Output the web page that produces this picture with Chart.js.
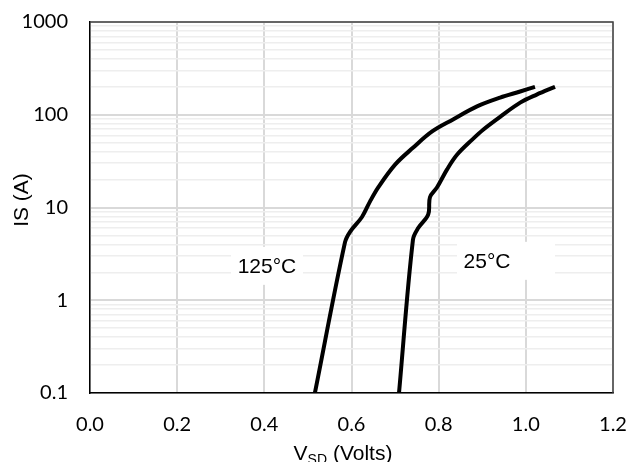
<!DOCTYPE html>
<html>
<head>
<meta charset="utf-8">
<script src="https://cdn.jsdelivr.net/npm/chart.js@4.4.0/dist/chart.umd.min.js"></script>
<style>
  body { margin: 0; background: #fff; }
  canvas { display: block; }
</style>
</head>
<body>
<canvas id="diodeChart" width="631" height="462"></canvas>
<script>
// forward voltage (V) vs source current (A)
const vsd125 = [0.516, 0.585, 0.597, 0.624, 0.642, 0.661, 0.700, 0.741, 0.785, 0.833, 0.888, 0.941, 0.987, 1.021];
const is125  = [0.1,   4.2,   5.5,   7.9,   11.5,  16.4,  29,    44,    66,    89,    123,   153,   178,   200];

const vsd25 = [0.709, 0.741, 0.753, 0.776, 0.780, 0.796, 0.819, 0.842, 0.877, 0.902, 0.941, 0.987, 1.025, 1.067];
const is25  = [0.1,   4.5,   6.0,   8.4,   12.9,  16.4,  25.6,  37,    54,    69,    95,    135,   165,   200];

const xTicks = [0.0, 0.2, 0.4, 0.6, 0.8, 1.0, 1.2];
const yDecades = [0.1, 1, 10, 100, 1000];

const curveLabels = [
    { text: '125\u00B0C', x: 0.406, y: 2.35 },
    { text: '25\u00B0C', x: 0.911, y: 2.66 }
];

const labelFont = '21px "Liberation Sans", Arial, sans-serif';

function toPoints(xs, ys) {
    return xs.map((x, i) => ({ x: x, y: ys[i] }));
}

// white boxed labels next to each curve, frame, and the axis titles
const extrasPlugin = {
    id: 'extras',
    afterDatasetsDraw(chart) {
        const ctx = chart.ctx;
        const xs = chart.scales.x;
        const ys = chart.scales.y;
        const area = chart.chartArea;

        ctx.save();
        ctx.font = labelFont;
        ctx.textAlign = 'center';
        ctx.textBaseline = 'middle';
        curveLabels.forEach((lbl, i) => {
            const px = xs.getPixelForValue(lbl.x);
            const py = ys.getPixelForValue(lbl.y);
            ctx.fillStyle = '#fff';
            if (i === 0) ctx.fillRect(px - 36, py - 19, 72, 38);
            else ctx.fillRect(px - 30, py - 19, 98, 38);
            ctx.fillStyle = '#000';
            ctx.fillText(lbl.text, px, py + 1);
        });

        ctx.strokeStyle = '#404040';
        ctx.lineWidth = 1.5;
        ctx.beginPath();
        ctx.moveTo(area.left, area.top);
        ctx.lineTo(area.right, area.top);
        ctx.lineTo(area.right, area.bottom);
        ctx.stroke();

        // y title
        ctx.fillStyle = '#000';
        ctx.save();
        ctx.translate(22, 200);
        ctx.rotate(-Math.PI / 2);
        ctx.font = labelFont;
        ctx.textAlign = 'center';
        ctx.textBaseline = 'middle';
        ctx.fillText('IS (A)', 0, 0);
        ctx.restore();

        // x title: V with SD subscript
        ctx.textAlign = 'left';
        ctx.textBaseline = 'alphabetic';
        const small = '14px "Liberation Sans", Arial, sans-serif';
        ctx.font = labelFont;
        const wV = ctx.measureText('V').width;
        const wRest = ctx.measureText(' (Volts)').width;
        ctx.font = small;
        const wSub = ctx.measureText('SD').width;
        let x0 = 343 - (wV + wSub + wRest) / 2;
        const base = 460;
        ctx.font = labelFont;
        ctx.fillText('V', x0, base);
        ctx.font = small;
        ctx.fillText('SD', x0 + wV, base + 4);
        ctx.font = labelFont;
        ctx.fillText(' (Volts)', x0 + wV + wSub, base);
        ctx.restore();
    }
};

const ctx = document.getElementById('diodeChart');

new Chart(ctx, {
    type: 'scatter',
    data: {
        datasets: [{
            label: '125C',
            data: toPoints(vsd125, is125),
            showLine: true,
            borderColor: '#000',
            borderWidth: 4,
            pointRadius: 0,
            tension: 0.35
        }, {
            label: '25C',
            data: toPoints(vsd25, is25),
            showLine: true,
            borderColor: '#000',
            borderWidth: 4,
            pointRadius: 0,
            tension: 0.35
        }]
    },
    options: {
        responsive: false,
        animation: false,
        layout: { padding: { top: 22, right: 18, left: 0, bottom: 0 } },
        plugins: {
            legend: { display: false },
            tooltip: { enabled: false }
        },
        scales: {
            x: {
                type: 'linear',
                min: 0,
                max: 1.2,
                afterBuildTicks: scale => {
                    scale.ticks = xTicks.map(v => ({ value: v }));
                },
                afterFit: scale => {
                    scale.height = 69;
                    scale.paddingLeft = 0;
                    scale.paddingRight = 0;
                },
                ticks: {
                    color: '#000',
                    padding: 20,
                    font: { family: 'Lato, "Liberation Sans", sans-serif', size: 20 },
                    callback: v => Number(v).toFixed(1)
                },
                grid: {
                    color: '#d9d9d9',
                    lineWidth: 2,
                    drawTicks: false
                },
                border: { color: '#000', width: 1.5 }
            },
            y: {
                type: 'logarithmic',
                min: 0.1,
                max: 1000,
                afterBuildTicks: scale => {
                    const t = [];
                    yDecades.forEach((d, i) => {
                        if (i === yDecades.length - 1) {
                            t.push({ value: d, major: true });
                            return;
                        }
                        for (let k = 1; k <= 9; k++) {
                            t.push({ value: d * k, major: k === 1 });
                        }
                    });
                    scale.ticks = t;
                },
                afterFit: scale => {
                    scale.width = 90;
                    scale.paddingTop = 0;
                    scale.paddingBottom = 0;
                },
                ticks: {
                    color: '#000',
                    padding: 22,
                    autoSkip: false,
                    font: { family: 'Lato, "Liberation Sans", sans-serif', size: 20 },
                    callback: v => yDecades.includes(v) ? String(v) : ''
                },
                grid: {
                    color: c => yDecades.includes(c.tick.value) ? '#d9d9d9' : '#eeeeee',
                    lineWidth: c => yDecades.includes(c.tick.value) ? 2 : 1.5,
                    drawTicks: false
                },
                border: { color: '#000', width: 1.5 }
            }
        }
    },
    plugins: [extrasPlugin]
});
</script>
</body>
</html>
